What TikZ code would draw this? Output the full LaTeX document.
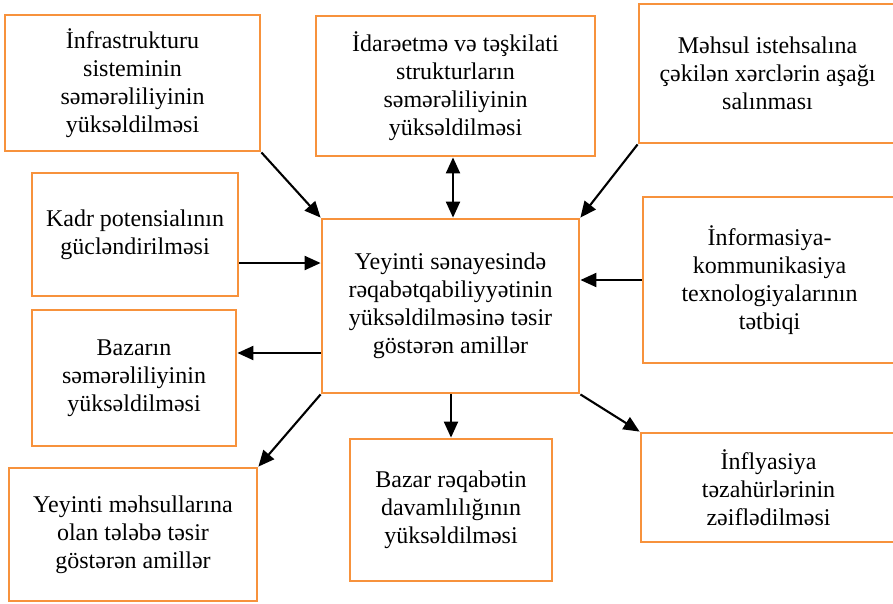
\documentclass[tikz,border=0pt]{standalone}
\usepackage{fontspec}
\setmainfont{Liberation Serif}
\newfontfamily\boxFamily{Liberation Serif}
\usetikzlibrary{arrows.meta}
\definecolor{boxOrange}{RGB}{247,146,60}
\newcommand{\pictureWidth}{893}
\newcommand{\pictureHeight}{603}
\newcommand{\boxLineWidth}{2.8pt}
\newcommand{\arrowLineWidth}{2.1pt}
\newcommand{\factorFont}{\boxFamily\fontsize{24}{28}\selectfont}
\tikzset{
  factorBox/.style n args={2}{draw=boxOrange, line width=\boxLineWidth, align=center,
    inner sep=0pt, minimum width=#1pt, minimum height=#2pt, font=\factorFont},
  flowArrow/.style={-{Triangle[length=16pt,width=14pt]}, line width=\arrowLineWidth},
  bothArrow/.style={{Triangle[length=16pt,width=14pt]}-{Triangle[length=16pt,width=14pt]}, line width=\arrowLineWidth}
}

\begin{document}
\begin{tikzpicture}[x=1pt, y=-1pt]
   \useasboundingbox (0,0) rectangle (\pictureWidth,\pictureHeight);
         \node (core) [factorBox={257}{174}] at (450.5,306) {Yeyinti sənayesində\\rəqabətqabiliyyətinin\\yüksəldilməsinə təsir\\göstərən amillər};
         \node (infra) [factorBox={255}{136}] at (132.5,83) {İnfrastrukturu\\sisteminin\\səmərəliliyinin\\yüksəldilməsi};
         \node (manage) [factorBox={279}{140}] at (455.5,86) {İdarəetmə və təşkilati\\strukturların\\səmərəliliyinin\\yüksəldilməsi};
         \node (cost) [factorBox={257}{139}] at (767.5,73.5) {Məhsul istehsalına\\çəkilən xərclərin aşağı\\salınması};
         \node (staff) [factorBox={206}{123}] at (135,234.5) {Kadr potensialının\\gücləndirilməsi};
         \node (ict) [factorBox={253}{166}] at (769.5,280) {İnformasiya-\\kommunikasiya\\texnologiyalarının\\tətbiqi};
         \node (market) [factorBox={204}{136}] at (134,378) {Bazarın\\səmərəliliyinin\\yüksəldilməsi};
         \node (demand) [factorBox={248}{133}] at (133,534.5) {Yeyinti məhsullarına\\olan tələbə təsir\\göstərən amillər};
         \node (rivalry) [factorBox={202}{142}] at (451,510) {Bazar rəqabətin\\davamlılığının\\yüksəldilməsi};
         \node (inflation) [factorBox={255}{109}] at (768.5,487.5) {İnflyasiya\\təzahürlərinin\\zəiflədilməsi};

\draw[flowArrow] (infra.south east) -- (core.north west);
\draw[bothArrow] (manage.south) ++(-2.5,0) -- ([xshift=-2.5pt]manage.south |- core.north);
\draw[flowArrow] (cost.south west) -- (core.north east);
\draw[flowArrow] (staff.east |- 0,263) -- (core.west |- 0,263);
\draw[flowArrow] (ict.west) -- (ict.west -| core.east);
\draw[flowArrow] (core.west |- 0,353) -- (market.east |- 0,353);
\draw[flowArrow] (core.south west) -- (demand.north east);
\draw[flowArrow] (core.south -| rivalry.north) -- (rivalry.north);
\draw[flowArrow] (core.south east) -- (inflation.north west);
   \end{tikzpicture}
\end{document}
